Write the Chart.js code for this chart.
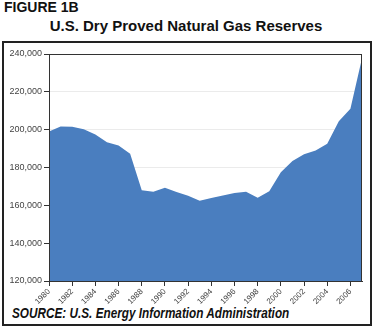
<!DOCTYPE html>
<html>
<head>
<meta charset="utf-8">
<script src="https://cdn.jsdelivr.net/npm/chart.js@4"></script>
<style>
  body { margin: 0; background: #fff; font-family: "Liberation Sans", Arial, Helvetica, sans-serif; }
  #wrap { position: relative; width: 375px; height: 330px; overflow: hidden; }
  #fig { position: absolute; left: 4px; top: -1px; font-size: 14px; font-weight: bold; line-height: 16px; color: #111; }
  #sub { position: absolute; left: 0; width: 372px; top: 18px; text-align: center; font-size: 15px; font-weight: bold; line-height: 16px; color: #111; }
  #box { position: absolute; left: 2px; top: 41px; width: 366px; height: 281px; border: 2px solid #222; }
  #src { position: absolute; left: 12px; top: 306px; font-size: 14px; font-weight: bold; font-style: italic; line-height: 15px; color: #111;
         white-space: nowrap; transform: scaleX(0.84); transform-origin: left top; }
  canvas { position: absolute; left: 0; top: 0; }
</style>
</head>
<body>
<div id="wrap">
  <div id="fig">FIGURE 1B</div>
  <div id="sub">U.S. Dry Proved Natural Gas Reserves</div>
  <div id="box"></div>
  <div id="src">SOURCE: U.S. Energy Information Administration</div>
  <canvas id="canvas" width="375" height="330"></canvas>
</div>
<script>
// billion cubic feet, year-end
var years = [1980, 1981, 1982, 1983, 1984, 1985, 1986, 1987, 1988, 1989,
             1990, 1991, 1992, 1993, 1994, 1995, 1996, 1997, 1998, 1999,
             2000, 2001, 2002, 2003, 2004, 2005, 2006, 2007];
var reserves = [199021, 201730, 201512, 200247, 197463, 193369, 191586, 187211, 168024, 167116,
                169346, 167062, 165015, 162415, 163837, 165146, 166474, 167223, 164041, 167406,
                177427, 183460, 186946, 189044, 192513, 204385, 211085, 237726];
var yTicks = [120000, 140000, 160000, 180000, 200000, 220000, 240000];

var fontFamily = '"Liberation Sans", Arial, Helvetica, sans-serif';

var frame = {
    id: 'frame',
    afterDraw: function(chart) {
        var a = chart.chartArea, c = chart.ctx;
        c.save();
        c.strokeStyle = '#333';
        c.lineWidth = 1;
        c.strokeRect(a.left + 0.5, a.top + 0.5, a.right - a.left - 1, a.bottom - a.top);
        c.restore();
    }
};

var ctx = document.getElementById("canvas").getContext("2d");
new Chart(ctx, {
    type: 'line',
    data: {
        labels: years.map(String),
        datasets: [{
            data: reserves,
            fill: 'start',
            backgroundColor: '#4a7ebf',
            borderWidth: 0,
            pointRadius: 0,
            tension: 0
        }]
    },
    options: {
        responsive: false,
        animation: false,
        layout: { padding: { left: 0, top: 54, right: 13, bottom: 0 } },
        plugins: { legend: { display: false }, tooltip: { enabled: false } },
        scales: {
            x: {
                afterFit: function(scale) { scale.height = 49; },
                grid: {
                    drawOnChartArea: false,
                    tickLength: 5,
                    tickColor: function(c) { return c.index % 2 === 0 ? '#333' : 'rgba(0,0,0,0)'; }
                },
                border: { color: '#333' },
                ticks: {
                    autoSkip: false,
                    maxRotation: 45,
                    minRotation: 45,
                    padding: 1,
                    color: '#444',
                    font: { family: fontFamily, size: 8 },
                    callback: function(v, i) { return i % 2 === 0 ? years[i] : ''; }
                }
            },
            y: {
                min: 120000,
                max: 240000,
                afterFit: function(scale) { scale.width = 49; },
                afterBuildTicks: function(scale) { scale.ticks = yTicks.map(function(v) { return { value: v }; }); },
                grid: { color: '#ebebeb', tickColor: '#333', tickLength: 5 },
                border: { color: '#333' },
                ticks: {
                    padding: 2,
                    color: '#444',
                    font: { family: fontFamily, size: 9 },
                    callback: function(v) { return v.toLocaleString('en-US'); }
                }
            }
        }
    },
    plugins: [frame]
});
</script>
</body>
</html>
